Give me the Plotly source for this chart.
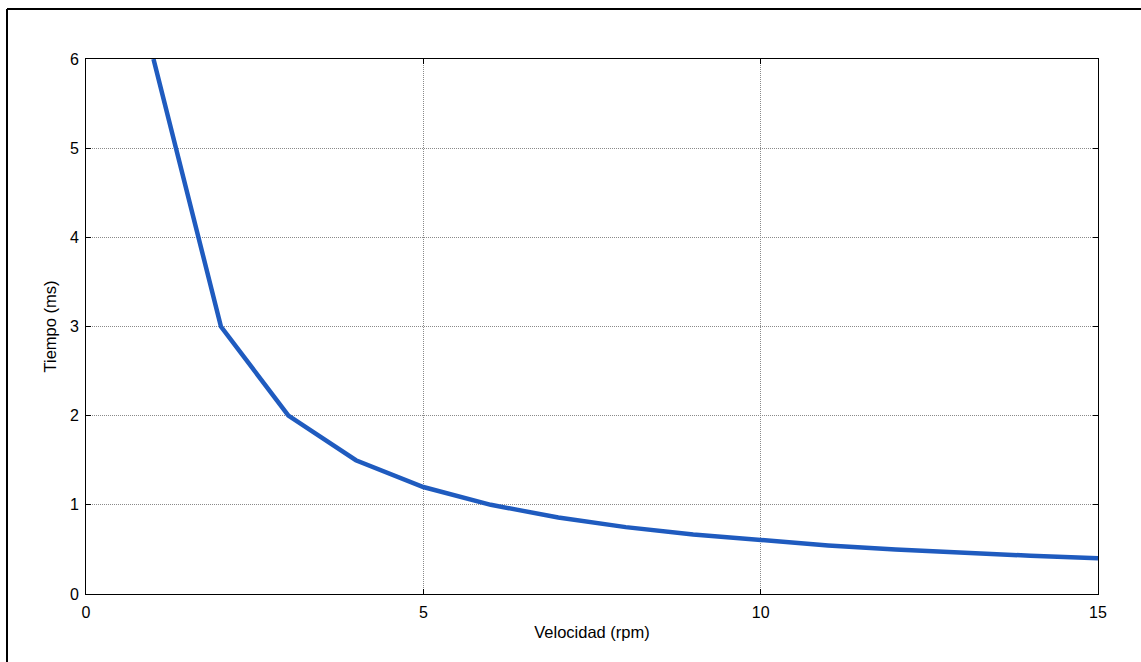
import plotly.graph_objects as go

velocidad = [1, 2, 3, 4, 5, 6, 7, 8, 9, 10, 11, 12, 13, 14, 15]
tiempo = [6.0, 3.0, 2.0, 1.5, 1.2, 1.0, 0.857, 0.75, 0.667, 0.6, 0.545, 0.5, 0.462, 0.429, 0.4]

x_ticks = [0, 5, 10, 15]
y_ticks = [0, 1, 2, 3, 4, 5, 6]

W, H = 1141, 662
L, R, T, B = 86, 43, 59, 68
pw, ph = W - L - R, H - T - B
FONT = "Liberation Sans, Arial"

fig = go.Figure()
fig.add_trace(go.Scatter(x=velocidad, y=tiempo, mode="lines",
                         line=dict(color="#1f5bbf", width=4.5), showlegend=False))

axis_common = dict(
    showline=True, linecolor="black", linewidth=1, mirror="ticks",
    ticks="inside", ticklen=5, tickcolor="black", tickwidth=1,
    showgrid=True, gridcolor="#8a8a8a", gridwidth=1, griddash="1px,1px",
    zeroline=False, tickfont=dict(family=FONT, size=16, color="black"),
)

fig.update_xaxes(range=[0, 15], tickvals=x_ticks, ticktext=[str(v) for v in x_ticks],
                 ticklabelstandoff=4,
                 title=dict(text="Velocidad (rpm)", standoff=6,
                            font=dict(family=FONT, size=16.5, color="black")),
                 **axis_common)
fig.update_yaxes(range=[0, 6], tickvals=y_ticks, ticktext=[str(v) for v in y_ticks],
                 ticklabelstandoff=3,
                 title=dict(text="Tiempo (ms)", standoff=9,
                            font=dict(family=FONT, size=16.5, color="black")),
                 **axis_common)

# outer figure border (top and left visible)
fig.add_shape(type="line", xref="paper", yref="paper",
              x0=(7 - L) / pw, x1=(W + 5 - L) / pw, y0=1 + (T - 9) / ph, y1=1 + (T - 9) / ph,
              line=dict(color="black", width=2))
fig.add_shape(type="line", xref="paper", yref="paper",
              x0=(7 - L) / pw, x1=(7 - L) / pw, y0=-(B + 5) / ph, y1=1 + (T - 9) / ph,
              line=dict(color="black", width=2))

fig.update_layout(width=W, height=H, margin=dict(l=L, r=R, t=T, b=B),
                  plot_bgcolor="white", paper_bgcolor="white")

fig.write_html("out.html", config={"displayModeBar": False},
               post_script="document.body.style.margin='0';")
